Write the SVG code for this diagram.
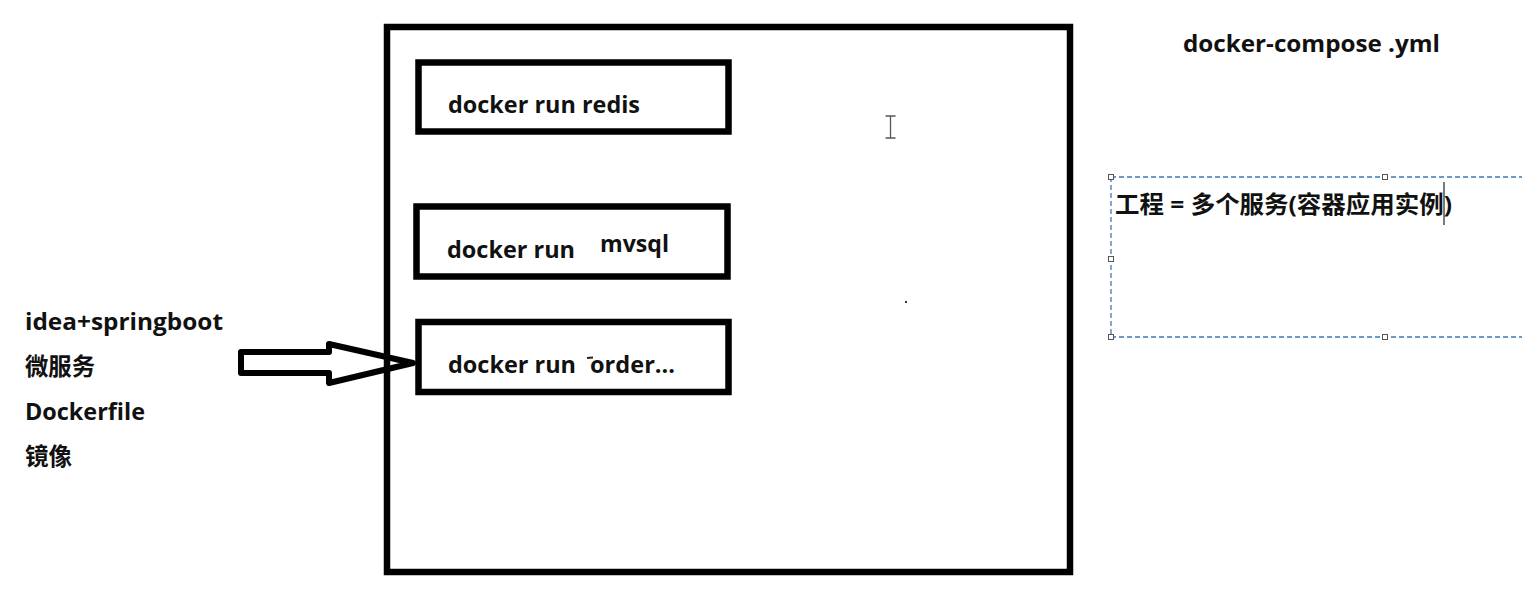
<svg xmlns="http://www.w3.org/2000/svg" width="1522" height="598" viewBox="0 0 1522 598">
<style>
.t{font-family:'Open Sans','Noto Sans CJK SC',sans-serif;font-weight:bold;fill:#111;}
.box{fill:none;stroke:#000;stroke-width:6.5;}
.h{fill:#fff;stroke:#555;stroke-width:1;}
</style>
<rect width="1522" height="598" fill="#fff"/>
<g id="outer"><rect class="box" x="387" y="27" width="683" height="545"/></g>
<g id="redis">
<rect class="box" x="418.5" y="62.5" width="310" height="69"/>
<text class="t" x="448" y="112.5" font-size="23" textLength="192" lengthAdjust="spacingAndGlyphs">docker run redis</text>
</g>
<g id="mysql">
<rect class="box" x="416.5" y="206.5" width="311" height="70"/>
<text class="t" x="447" y="257.5" font-size="23" textLength="128" lengthAdjust="spacingAndGlyphs">docker run</text>
<text class="t" x="600" y="251.5" font-size="23" textLength="69" lengthAdjust="spacingAndGlyphs">mvsql</text>
</g>
<g id="order">
<rect class="box" x="418.5" y="322" width="310" height="70"/>
<text class="t" x="448" y="372.5" font-size="23" textLength="128" lengthAdjust="spacingAndGlyphs">docker run</text>
<line x1="587" y1="358" x2="593" y2="357.5" stroke="#222" stroke-width="2"/>
<text class="t" x="590" y="372.5" font-size="23" textLength="85" lengthAdjust="spacingAndGlyphs">order...</text>
</g>
<g id="left-labels">
<text class="t" x="25" y="330" font-size="23" textLength="198" lengthAdjust="spacingAndGlyphs">idea+springboot</text>
<text class="t" x="25" y="375" font-size="24" textLength="70" lengthAdjust="spacingAndGlyphs">微服务</text>
<text class="t" x="25" y="419.5" font-size="23" textLength="120" lengthAdjust="spacingAndGlyphs">Dockerfile</text>
<text class="t" x="25" y="465" font-size="24" textLength="47" lengthAdjust="spacingAndGlyphs">镜像</text>
</g>
<g id="connectors">
<path d="M241,352 L329,352 L329,344 L413,363 L329,383 L329,373 L241,373 Z" fill="none" stroke="#000" stroke-width="6" stroke-linejoin="round"/>
</g>
<g id="compose-title">
<text class="t" x="1183" y="51.5" font-size="24" textLength="257" lengthAdjust="spacingAndGlyphs">docker-compose .yml</text>
</g>
<g id="note">
<path d="M1111,177 H1522 M1111,177 V337 M1111,337 H1522" fill="none" stroke="#3d7ab8" stroke-width="1.3" stroke-dasharray="5,3"/>
<rect class="h" x="1108.5" y="174.5" width="5" height="5"/>
<rect class="h" x="1382.5" y="174.5" width="5" height="5"/>
<rect class="h" x="1108.5" y="256.5" width="5" height="5"/>
<rect class="h" x="1108.5" y="334.5" width="5" height="5"/>
<rect class="h" x="1382.5" y="334.5" width="5" height="5"/>
<text class="t" x="1115" y="213" font-size="24" textLength="337" lengthAdjust="spacingAndGlyphs">工程 = 多个服务(容器应用实例)</text>
<line x1="1444" y1="182" x2="1444" y2="225" stroke="#222" stroke-width="1.2"/>
</g>
<g id="cursor" stroke="#555" stroke-width="1.3" fill="none">
<path d="M890.5,116 V138 M885.5,116 H895.5 M885.5,138 H895.5"/>
</g>
<rect x="905" y="301" width="2" height="2" fill="#333"/>
</svg>
